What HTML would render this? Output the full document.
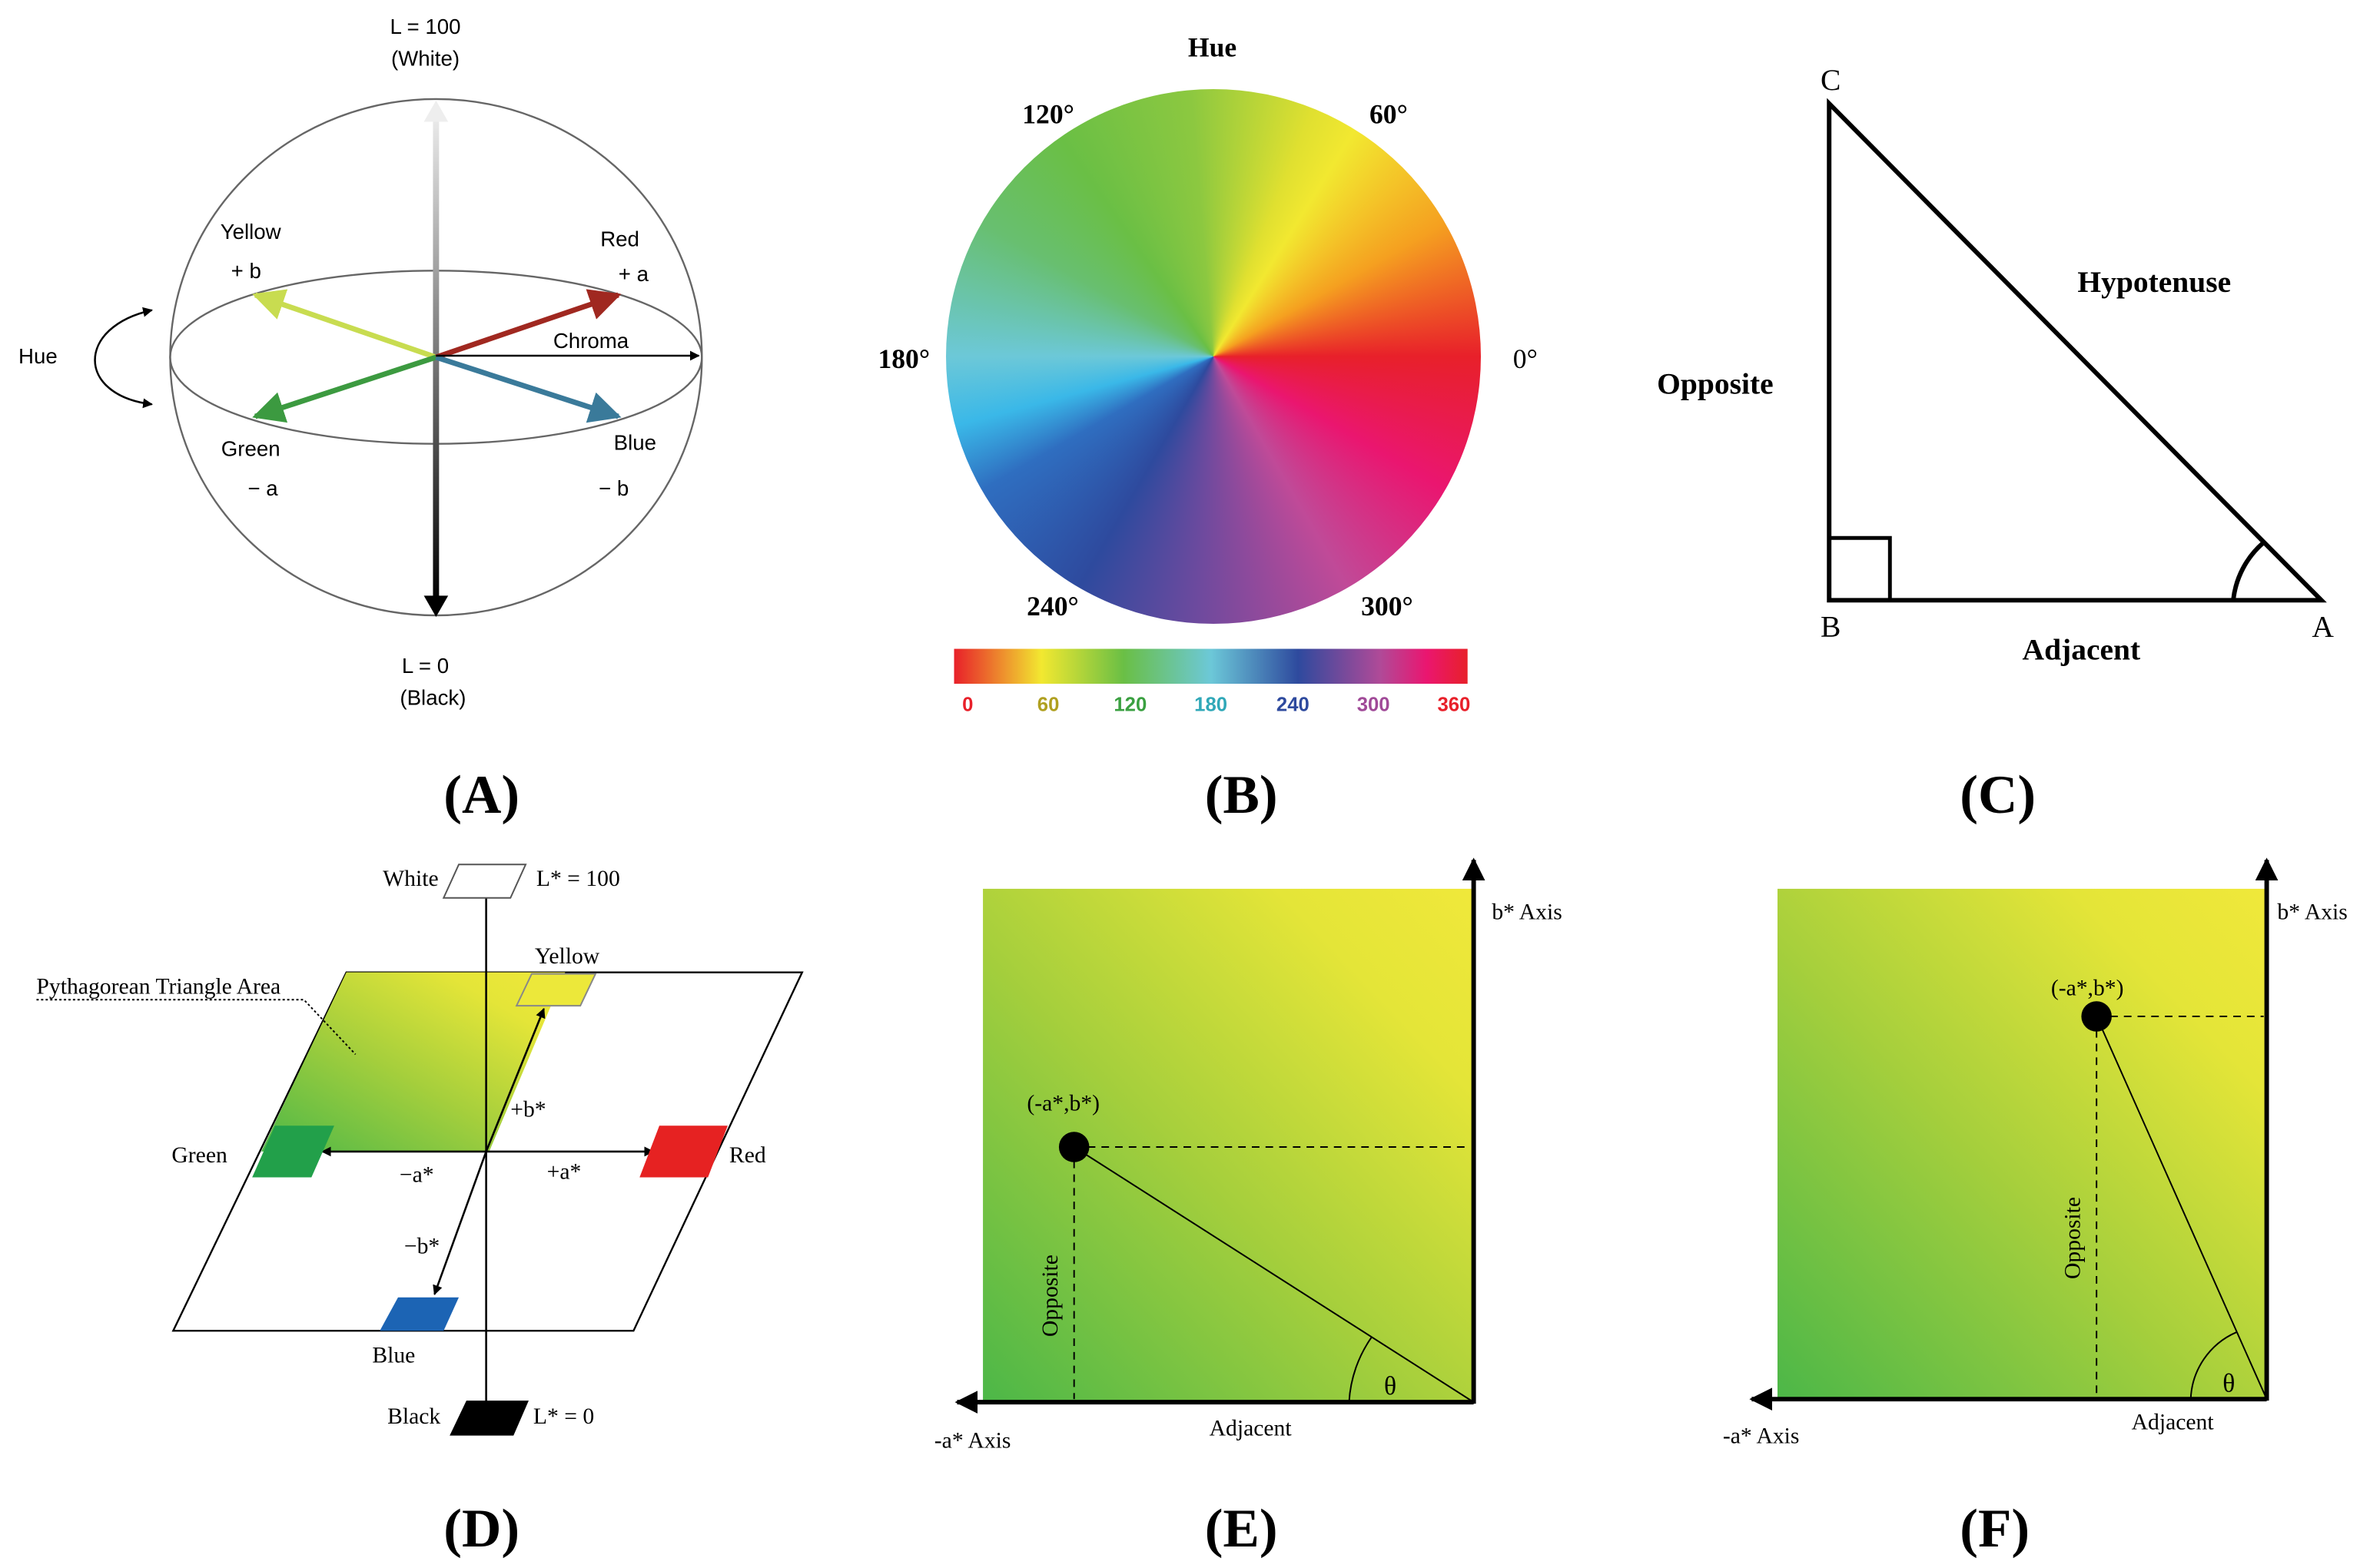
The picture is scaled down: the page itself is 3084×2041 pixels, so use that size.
<!DOCTYPE html>
<html><head><meta charset="utf-8"><style>
html,body{margin:0;padding:0;background:#fff;}
body{width:3084px;height:2041px;overflow:hidden;position:relative;}
svg{position:absolute;left:0;top:0;}
.wheel{position:absolute;left:1231px;top:116px;width:696px;height:696px;border-radius:50%;
background:conic-gradient(from 90deg,#e8202a 0deg,#ea1670 30deg,#c04a98 60deg,#6a4a9e 95deg,#2e4a9e 120deg,#2f6ec0 150deg,#3ab8e8 165deg,#6cc8d8 180deg,#68bf70 210deg,#6abf45 235deg,#8cc840 265deg,#e0e030 292deg,#f2e830 302deg,#f5a020 330deg,#e8202a 360deg);}
</style></head><body>
<div class="wheel"></div>
<svg width="3084" height="2041" viewBox="0 0 1560 1032" xmlns="http://www.w3.org/2000/svg" font-family="Liberation Sans, sans-serif">
<defs>
<linearGradient id="ax" x1="0" y1="1" x2="0" y2="0"><stop offset="0" stop-color="#000"/><stop offset="1" stop-color="#eee"/></linearGradient>
<linearGradient id="bar" x1="0" x2="1"><stop offset="0" stop-color="#e8202a"/><stop offset=".17" stop-color="#f2e830"/><stop offset=".33" stop-color="#6abf45"/><stop offset=".5" stop-color="#6cc8d8"/><stop offset=".67" stop-color="#2e4a9e"/><stop offset=".83" stop-color="#b04a98"/><stop offset=".92" stop-color="#ea1670"/><stop offset="1" stop-color="#e8202a"/></linearGradient>
<linearGradient id="gy" x1="0" y1="1" x2="1" y2="0"><stop offset="0" stop-color="#4cb748"/><stop offset=".45" stop-color="#a6cf3c"/><stop offset=".8" stop-color="#e4e538"/><stop offset="1" stop-color="#f0e83a"/></linearGradient>
<marker id="ah" viewBox="0 0 10 10" refX="9" refY="5" markerWidth="6" markerHeight="6" orient="auto-start-reverse"><path d="M0,0L10,5L0,10z" fill="context-stroke"/></marker>
<marker id="hb" viewBox="0 0 10 10" refX="9" refY="5" markerWidth="5" markerHeight="5" orient="auto-start-reverse"><path d="M0,0L10,5L0,10z" fill="#000"/></marker>
</defs>
<!-- A -->
<ellipse cx="287" cy="235" rx="175" ry="170" fill="none" stroke="#666" stroke-width="1.2"/>
<ellipse cx="287" cy="235" rx="175" ry="57" fill="none" stroke="#666" stroke-width="1.2"/>
<rect x="285" y="72" width="4" height="325" fill="url(#ax)"/>
<path d="M279,80L287,66L295,80z" fill="#eee"/>
<path d="M279,392L287,406L295,392z" fill="#000"/>
<g stroke-width="3.5">
<line x1="287" y1="235" x2="168" y2="194" stroke="#c8dc50" marker-end="url(#ah)"/>
<line x1="287" y1="235" x2="407" y2="194" stroke="#a02820" marker-end="url(#ah)"/>
<line x1="287" y1="235" x2="168" y2="274" stroke="#3c9a40" marker-end="url(#ah)"/>
<line x1="287" y1="235" x2="407" y2="274" stroke="#3a7a9a" marker-end="url(#ah)"/>
</g>
<line x1="287" y1="234" x2="460" y2="234" stroke="#000" stroke-width="1.3" marker-end="url(#hb)"/>
<path d="M100,204C50,215 50,260 100,266" fill="none" stroke="#000" stroke-width="1.3" marker-start="url(#hb)" marker-end="url(#hb)"/>
<g font-size="14" fill="#000" text-anchor="middle">
<text x="280" y="22">L = 100</text><text x="280" y="43">(White)</text>
<text x="280" y="443">L = 0</text><text x="285" y="464">(Black)</text>
<text x="165" y="157">Yellow</text><text x="162" y="183">+ b</text>
<text x="408" y="162">Red</text><text x="417" y="185">+ a</text>
<text x="165" y="300">Green</text><text x="173" y="326">− a</text>
<text x="418" y="296">Blue</text><text x="404" y="326">− b</text>
<text x="389" y="229">Chroma</text><text x="25" y="239">Hue</text>
</g>
<!-- B -->
<rect x="628" y="427" width="338" height="23" fill="url(#bar)"/>
<g font-family="Liberation Serif, serif" font-weight="bold" font-size="18" text-anchor="middle">
<text x="798" y="37">Hue</text><text x="690" y="81">120°</text><text x="914" y="81">60°</text>
<text x="595" y="242">180°</text><text x="1004" y="242" font-weight="normal">0°</text>
<text x="693" y="405">240°</text><text x="913" y="405">300°</text>
</g>
<g font-weight="bold" font-size="13" text-anchor="middle">
<text x="637" y="468" fill="#e8202a">0</text><text x="690" y="468" fill="#b0a020">60</text>
<text x="744" y="468" fill="#3aa040">120</text><text x="797" y="468" fill="#30a8b8">180</text>
<text x="851" y="468" fill="#2e4a9e">240</text><text x="904" y="468" fill="#a04a98">300</text>
<text x="957" y="468" fill="#e8202a">360</text>
</g>
<!-- C -->
<path d="M1204,68L1204,395L1528,395Z" fill="none" stroke="#000" stroke-width="3"/>
<path d="M1204,354H1244V395" fill="none" stroke="#000" stroke-width="2.5"/>
<path d="M1470,395A58,58 0 0 1 1490,357" fill="none" stroke="#000" stroke-width="3"/>
<g font-family="Liberation Serif, serif" font-size="20" text-anchor="middle">
<text x="1205" y="59">C</text><text x="1205" y="419">B</text><text x="1529" y="419">A</text>
<text x="1418" y="192" font-weight="bold">Hypotenuse</text><text x="1129" y="259" font-weight="bold">Opposite</text>
<text x="1370" y="434" font-weight="bold">Adjacent</text>
</g>
<!-- labels -->
<g font-family="Liberation Serif, serif" font-size="36" font-weight="bold" text-anchor="middle">
<text x="317" y="535">(A)</text><text x="817" y="535">(B)</text><text x="1315" y="535">(C)</text>
<text x="317" y="1018">(D)</text><text x="817" y="1018">(E)</text><text x="1313" y="1018">(F)</text>
</g>
<!-- D -->
<path d="M228,640L528,640L417,876L114,876Z" fill="none" stroke="#000" stroke-width="1.2"/>
<path d="M228,640L372,640L322,758L172,758Z" fill="url(#gy)"/>
<line x1="320" y1="943" x2="320" y2="582" stroke="#000" stroke-width="1.3" marker-end="url(#hb)"/>
<line x1="320" y1="758" x2="430" y2="758" stroke="#000" stroke-width="1.3" marker-end="url(#hb)"/>
<line x1="320" y1="758" x2="212" y2="758" stroke="#000" stroke-width="1.3" marker-end="url(#hb)"/>
<line x1="320" y1="758" x2="358" y2="664" stroke="#000" stroke-width="1.3" marker-end="url(#hb)"/>
<line x1="320" y1="758" x2="286" y2="852" stroke="#000" stroke-width="1.3" marker-end="url(#hb)"/>
<path d="M302,569H346L336,591H292Z" fill="#fff" stroke="#555"/>
<path d="M350,641H392L382,662H340Z" fill="#ece83a" stroke="#888"/>
<path d="M181,741H220L205,775H166Z" fill="#22a04a"/>
<path d="M434,741H479L466,775H421Z" fill="#e62222"/>
<path d="M262,854H302L292,876H250Z" fill="#1c64b4"/>
<path d="M307,922H348L338,945H296Z" fill="#000"/>
<path d="M24,658H200L234,694" fill="none" stroke="#000" stroke-dasharray="1.5,1.5"/>
<g font-family="Liberation Serif, serif" font-size="15">
<text x="252" y="583">White</text><text x="353" y="583">L* = 100</text>
<text x="352" y="634">Yellow</text><text x="24" y="654">Pythagorean Triangle Area</text>
<text x="113" y="765">Green</text><text x="480" y="765">Red</text>
<text x="336" y="735">+b*</text><text x="263" y="778">−a*</text><text x="360" y="776">+a*</text>
<text x="266" y="825">−b*</text><text x="245" y="897">Blue</text>
<text x="255" y="937">Black</text><text x="351" y="937">L* = 0</text>
</g>
<!-- E -->
<rect x="647" y="585" width="323" height="338" fill="url(#gy)"/>
<line x1="970" y1="924" x2="970" y2="566" stroke="#000" stroke-width="3" marker-end="url(#hb)"/>
<line x1="970" y1="923" x2="630" y2="923" stroke="#000" stroke-width="3" marker-end="url(#hb)"/>
<line x1="707" y1="755" x2="970" y2="923" stroke="#000" stroke-width="1"/>
<path d="M707,755H968M707,755V921" stroke="#000" stroke-dasharray="5,4" fill="none"/>
<circle cx="707" cy="755" r="10" fill="#000"/>
<path d="M888,923A82,82 0 0 1 903,880" fill="none" stroke="#000"/>
<g font-family="Liberation Serif, serif" font-size="15">
<text x="676" y="731">(-a*,b*)</text><text x="982" y="605">b* Axis</text>
<text x="615" y="953">-a* Axis</text><text x="796" y="945">Adjacent</text>
<text x="911" y="918" font-size="17">θ</text>
<text transform="translate(696,880) rotate(-90)">Opposite</text>
</g>
<!-- F -->
<rect x="1170" y="585" width="322" height="336" fill="url(#gy)"/>
<line x1="1492" y1="922" x2="1492" y2="566" stroke="#000" stroke-width="3" marker-end="url(#hb)"/>
<line x1="1492" y1="921" x2="1153" y2="921" stroke="#000" stroke-width="3" marker-end="url(#hb)"/>
<line x1="1380" y1="669" x2="1492" y2="921" stroke="#000" stroke-width="1"/>
<path d="M1380,669H1490M1380,669V919" stroke="#000" stroke-dasharray="5,4" fill="none"/>
<circle cx="1380" cy="669" r="10" fill="#000"/>
<path d="M1442,921A50,50 0 0 1 1472,877" fill="none" stroke="#000"/>
<g font-family="Liberation Serif, serif" font-size="15">
<text x="1350" y="655">(-a*,b*)</text><text x="1499" y="605">b* Axis</text>
<text x="1134" y="950">-a* Axis</text><text x="1403" y="941">Adjacent</text>
<text x="1463" y="916" font-size="17">θ</text>
<text transform="translate(1369,842) rotate(-90)">Opposite</text>
</g>
</svg>
</body></html>
